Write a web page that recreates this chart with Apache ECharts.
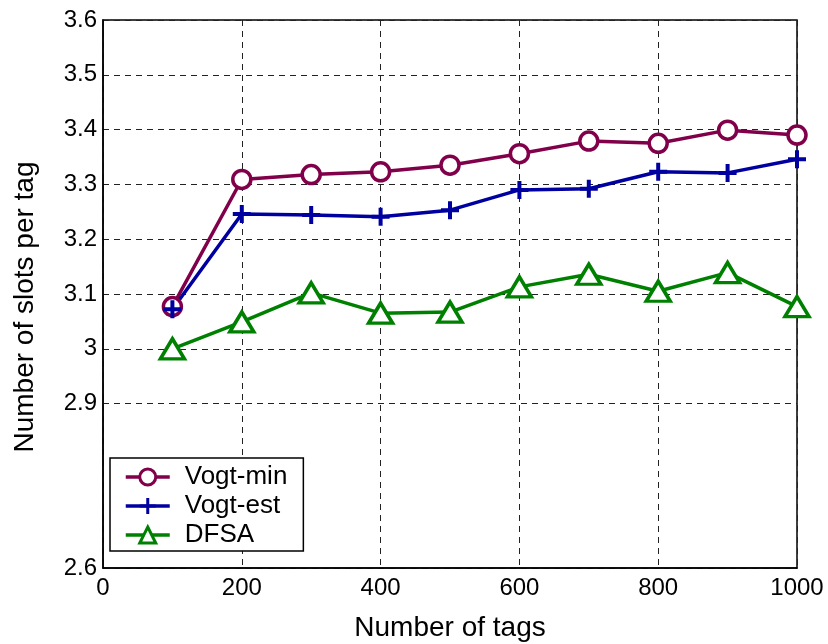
<!DOCTYPE html>
<html>
<head>
<meta charset="utf-8">
<script src="https://cdn.jsdelivr.net/npm/echarts@6/dist/echarts.min.js"></script>
<style>
    html, body { margin: 0; padding: 0; background: #fff; }
    #main { width: 828px; height: 644px; }
</style>
</head>
<body>
<div id="main"></div>
<script>
// data
var tags = [100, 200, 300, 400, 500, 600, 700, 800, 900, 1000];
var vogtMin = [3.077, 3.309, 3.318, 3.323, 3.335, 3.356, 3.379, 3.375, 3.399, 3.390];
var vogtEst = [3.072, 3.246, 3.244, 3.241, 3.253, 3.290, 3.292, 3.323, 3.321, 3.346];
var dfsa = [3.000, 3.049, 3.102, 3.065, 3.067, 3.113, 3.136, 3.105, 3.139, 3.077];

// y ticks that carry a label and grid line (2.7 and 2.8 are absent in the figure)
var yTicksShown = [2.6, 2.9, 3.0, 3.1, 3.2, 3.3, 3.4, 3.5, 3.6];

var FONT = '"Liberation Sans", Arial, sans-serif';

function pairs(ys) {
    return tags.map(function (t, i) { return [t, ys[i]]; });
}
function isShown(v) {
    var r = Math.round(v * 10) / 10;
    return yTicksShown.some(function (s) { return Math.abs(s - r) < 1e-6; });
}

// one colour per y tick from 2.6 to 3.6, transparent where the figure has no grid line
var yGridColors = [];
for (var k = 26; k <= 36; k++) {
    yGridColors.push(isShown(k / 10) ? '#222' : 'rgba(0,0,0,0)');
}

var myChart = echarts.init(document.getElementById('main'));

myChart.setOption({
    backgroundColor: '#fff',
    animation: false,
    textStyle: { fontFamily: FONT },
    grid: {
        left: 103,
        right: 31,
        top: 20,
        bottom: 76,
        outerBoundsMode: 'none',
        show: true,
        borderColor: '#000',
        borderWidth: 1.5
    },
    legend: {
        orient: 'vertical',
        left: 110,
        top: 458,
        backgroundColor: '#fff',
        borderColor: '#000',
        borderWidth: 1.5,
        borderRadius: 0,
        padding: [6, 16, 3, 14],
        itemGap: 3,
        itemWidth: 44,
        itemHeight: 20,
        lineStyle: { width: 3.5 },
        itemStyle: { borderWidth: 3 },
        textStyle: { fontSize: 26, color: '#000', fontFamily: FONT, padding: [0, 0, 0, 10] },
        data: ['Vogt-min', 'Vogt-est', 'DFSA']
    },
    xAxis: {
        type: 'value',
        min: 0,
        max: 1000,
        interval: 200,
        name: 'Number of tags',
        nameLocation: 'middle',
        nameGap: 46,
        nameTextStyle: { fontSize: 28, color: '#000', fontFamily: FONT },
        axisLine: { lineStyle: { color: '#000', width: 1.5 } },
        axisTick: { show: false },
        axisLabel: {
            fontSize: 24,
            color: '#000',
            margin: 8,
            fontFamily: FONT,
            formatter: function (v) { return String(v); }
        },
        splitLine: { show: true, lineStyle: { color: '#222', width: 1, type: [6, 5] } }
    },
    yAxis: {
        type: 'value',
        min: 2.6,
        max: 3.6,
        interval: 0.1,
        name: 'Number of slots per tag',
        nameLocation: 'middle',
        nameGap: 64,
        nameTextStyle: { fontSize: 28, color: '#000', fontFamily: FONT, padding: [0, 26, 0, 0] },
        axisLine: { show: true, lineStyle: { color: '#000', width: 1.5 } },
        axisTick: { show: false },
        axisLabel: {
            fontSize: 24,
            color: '#000',
            margin: 6,
            fontFamily: FONT,
            formatter: function (v) {
                if (!isShown(v)) return '';
                return String(Math.round(v * 10) / 10);
            }
        },
        splitLine: { show: true, lineStyle: { color: yGridColors, width: 1, type: [6, 5] } }
    },
    series: [
        {
            name: 'Vogt-min',
            type: 'line',
            data: pairs(vogtMin),
            symbol: 'circle',
            symbolSize: 18,
            lineStyle: { width: 3.5, color: '#80004a' },
            itemStyle: { color: '#fff', borderColor: '#80004a', borderWidth: 3.5 }
        },
        {
            name: 'Vogt-est',
            type: 'line',
            data: pairs(vogtEst),
            symbol: 'path://M5,0L5,10M0,5L10,5',
            symbolSize: 18,
            lineStyle: { width: 3.5, color: '#0000a0' },
            itemStyle: { color: '#0000a0', borderColor: '#0000a0', borderWidth: 4 }
        },
        {
            name: 'DFSA',
            type: 'line',
            data: pairs(dfsa),
            symbol: 'triangle',
            symbolSize: [24, 20],
            lineStyle: { width: 3.5, color: '#008000' },
            itemStyle: { color: '#fff', borderColor: '#008000', borderWidth: 3.5 }
        }
    ]
});
</script>
</body>
</html>
